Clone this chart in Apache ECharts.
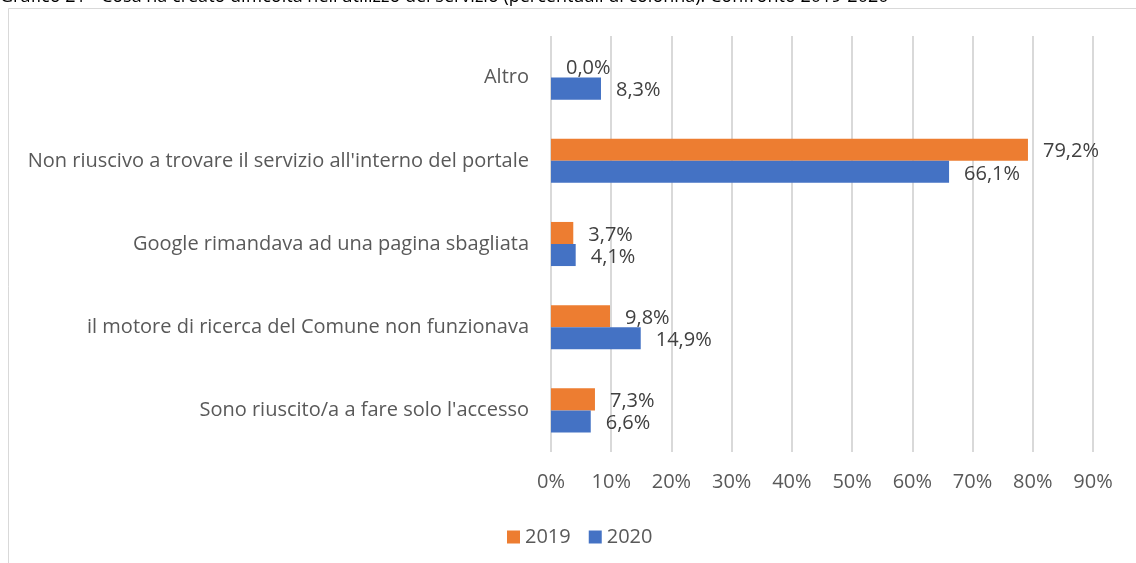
<!DOCTYPE html>
<html>
<head>
<meta charset="utf-8">
<script src="https://cdn.jsdelivr.net/npm/echarts@6/dist/echarts.min.js"></script>
<style>
  html, body { margin: 0; padding: 0; background: #fff; }
  #chartmain { width: 1136px; height: 563px; }
</style>
</head>
<body>
<div id="chartmain"></div>
<script>
var categories = [
    'Altro',
    "Non riuscivo a trovare il servizio all'interno del portale",
    'Google rimandava ad una pagina sbagliata',
    'il motore di ricerca del Comune non funzionava',
    "Sono riuscito/a a fare solo l'accesso"
];
var data_2019 = [0.0, 79.2, 3.7, 9.8, 7.3];
var data_2020 = [8.3, 66.1, 4.1, 14.9, 6.6];
var tick_values = [0, 10, 20, 30, 40, 50, 60, 70, 80, 90];

var fontName = 'Open Sans';

function pct(v) {
    return v.toFixed(1).replace('.', ',') + '%';
}

var valueLabel = {
    show: true,
    position: 'right',
    distance: 15,
    offset: [0, 2],
    color: '#404040',
    fontSize: 20,
    formatter: function (p) { return pct(p.value); }
};

var option = {
    backgroundColor: '#fff',
    animation: false,
    textStyle: { fontFamily: fontName },
    graphic: [{
        type: 'text',
        left: 0,
        top: -12,
        style: {
            text: "Grafico 21 - Cosa ha creato difficoltà nell'utilizzo del servizio (percentuali di colonna). Confronto 2019-2020",
            fill: '#000',
            font: '18px ' + fontName
        }
    }, {
        type: 'rect',
        shape: { x: 8.5, y: 8.5, width: 1140, height: 600 },
        style: { fill: 'none', stroke: '#d9d9d9', lineWidth: 1 }
    }],
    legend: {
        data: ['2019', '2020'],
        top: 522,
        left: 502,
        icon: 'rect',
        itemWidth: 13,
        itemHeight: 13,
        itemGap: 18,
        textStyle: { color: '#595959', fontSize: 20, fontFamily: fontName }
    },
    grid: {
        left: 551,
        right: 43,
        top: 36,
        bottom: 111
    },
    xAxis: {
        type: 'value',
        min: tick_values[0],
        max: tick_values[tick_values.length - 1],
        interval: 10,
        axisLine: { show: false },
        axisTick: { show: false },
        splitLine: { lineStyle: { color: '#d9d9d9', width: 2 } },
        axisLabel: {
            color: '#595959',
            fontSize: 20,
            margin: 20,
            formatter: '{value}%'
        }
    },
    yAxis: {
        type: 'category',
        data: categories,
        inverse: true,
        axisLine: { show: false },
        axisTick: { show: false },
        axisLabel: { color: '#595959', fontSize: 20, margin: 22 }
    },
    series: [{
        name: '2019',
        type: 'bar',
        data: data_2019,
        barGap: '0%',
        barCategoryGap: '47%',
        itemStyle: { color: '#ed7d31' },
        label: valueLabel
    }, {
        name: '2020',
        type: 'bar',
        data: data_2020,
        barGap: '0%',
        barCategoryGap: '47%',
        itemStyle: { color: '#4472c4' },
        label: valueLabel
    }]
};

var myChart = echarts.init(document.getElementById('chartmain'));
myChart.setOption(option);
</script>
</body>
</html>
